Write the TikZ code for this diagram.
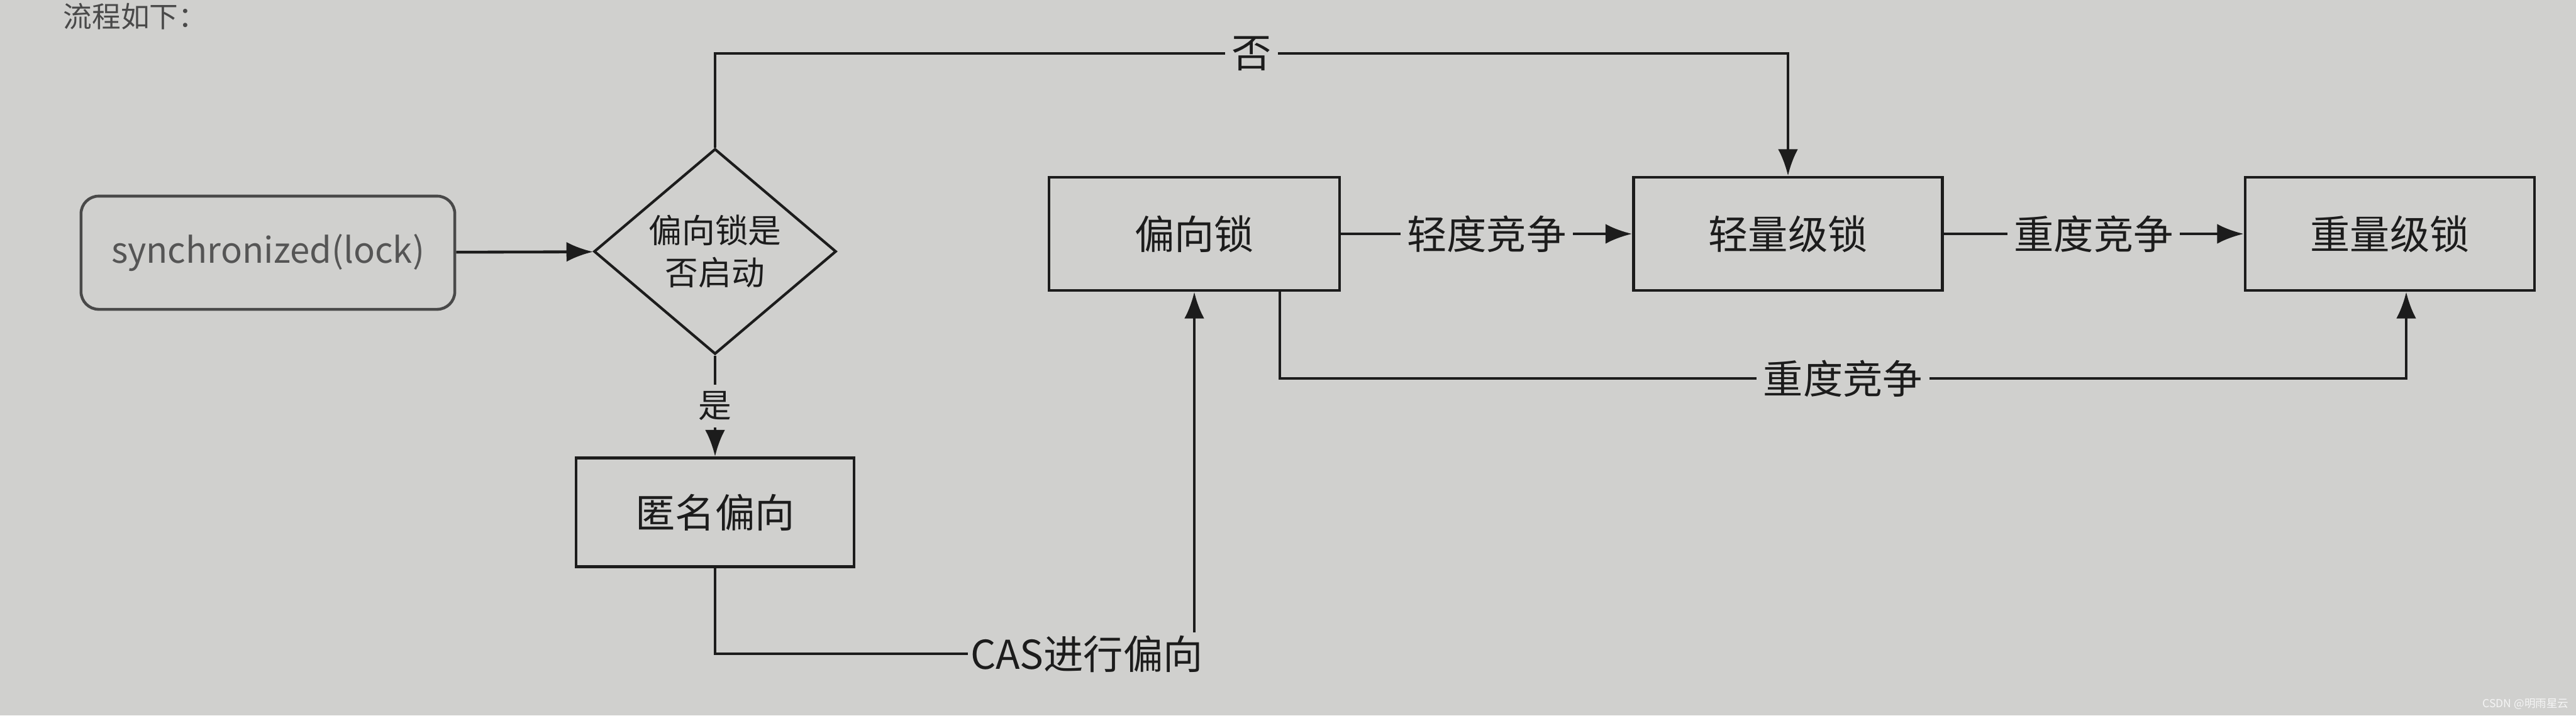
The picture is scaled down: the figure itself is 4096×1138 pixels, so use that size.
\documentclass[tikz,border=0pt]{standalone}
\usepackage{fontspec}
\setmainfont{Noto Sans CJK SC}
\usetikzlibrary{arrows.meta,shapes.geometric}
\definecolor{paper}{RGB}{208,208,206}
\definecolor{ink}{RGB}{28,28,28}
\begin{document}
\begin{tikzpicture}[x=0.01cm,y=-0.01cm,
  box/.style={draw=ink, line width=1.3pt, minimum height=1.8cm, inner sep=0pt,
              font=\fontsize{18}{20}\selectfont, text=ink},
  decision/.style={draw=ink, line width=1.2pt, diamond, inner sep=0pt, align=center,
              minimum width=3.85cm, minimum height=2.85cm,
              font=\fontsize{15}{19}\selectfont, text=ink},
  conn/.style={draw=ink, line width=1.3pt},
  arr/.style={conn, -{Latex[length=12pt,width=9pt]}},
  lbl/.style={fill=paper, inner sep=3pt, font=\fontsize{18}{20}\selectfont, text=ink},
]
\fill[paper] (0,0) rectangle (4096,1138);
\useasboundingbox (0,0) rectangle (4096,1138);

% heading at the top edge
\node[anchor=north west, inner sep=0pt, font=\fontsize{13}{15}\selectfont, text=ink!80] (title) at (100,4) {流程如下：};

% nodes
\node[box, draw=ink!80, rounded corners=8pt, minimum width=5.94cm, font=\fontsize{16}{18}\selectfont, text=ink!75] (sync) at (426,402) {synchronized(lock)};
\node[decision] (dia) at (1137,400) {偏向锁是\\否启动};
\node[box, minimum width=4.42cm, minimum height=1.73cm] (anon) at (1137,815) {匿名偏向};
\node[box, minimum width=4.62cm] (bias) at (1899,372) {偏向锁};
\node[box, minimum width=4.91cm] (light) at (2843,372) {轻量级锁};
\node[box, minimum width=4.60cm] (heavy) at (3800,372) {重量级锁};
\node[lbl, anchor=east, inner sep=1pt] (cas) at (1917,1040) {CAS进行偏向};

\coordinate (ntop) at (0,85);
\coordinate (nbot) at (0,602);

% connectors
\draw[arr] (sync) -- (dia);
\draw[arr] (dia.north) -- (dia.north |- ntop) -- node[lbl]{否} (light.north |- ntop) -- (light.north);
\draw[arr] (dia.south) -- node[lbl, font=\fontsize{15}{18}\selectfont]{是} (anon.north);
\draw[conn] (anon.south) |- (cas.west);
\draw[arr] (cas.north -| bias.south) -- (bias.south);
\draw[arr] (bias) -- node[lbl]{轻度竞争} (light);
\draw[arr] (light) -- node[lbl]{重度竞争} (heavy);
\draw[arr] ([xshift=1.36cm]bias.south) |- node[lbl, pos=0.75]{重度竞争} ([xshift=0.26cm]heavy.south |- nbot) -- ([xshift=0.26cm]heavy.south);

% watermark
\node[anchor=east, inner sep=0pt, font=\fontsize{5}{6}\selectfont, text=white!92!gray] (wm) at (4085,1120) {CSDN @明雨星云};
\end{tikzpicture}
\end{document}
